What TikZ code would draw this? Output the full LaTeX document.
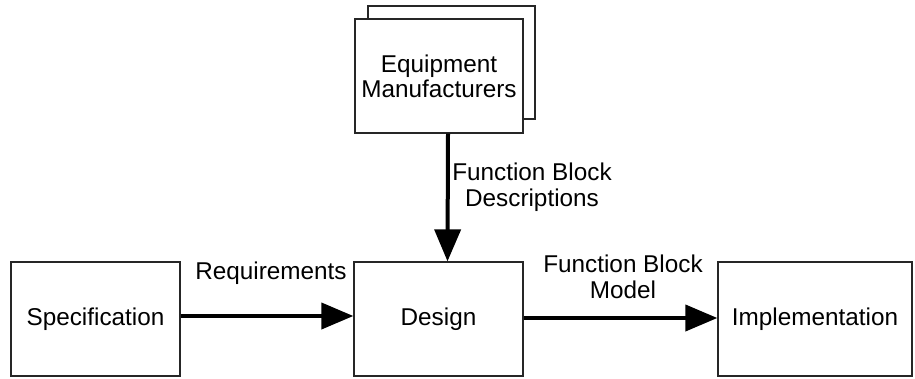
\documentclass[tikz,border=0pt]{standalone}
\usepackage{fontspec}
\setmainfont{Liberation Sans}
\usetikzlibrary{arrows.meta}
\begin{document}
\begin{tikzpicture}[x=1pt,y=-1pt,
  box/.style={draw=black!85, line width=1.3pt, fill=white, minimum height=114pt, inner sep=0pt, align=center, font=\fontsize{24.3}{25}\selectfont},
  flow/.style={line width=4pt, -{Triangle[length=32pt,width=26pt]}},
  lbl/.style={align=center, inner sep=0pt, font=\fontsize{24.3}{25.5}\selectfont}]
\useasboundingbox (0,0) rectangle (915,378);
\node[box, minimum width=167pt, minimum height=113pt] (eqback) at (451.5,62.5) {};
\node[box, minimum width=168pt] (eq) at (439,76) {Equipment\\Manufacturers};
\node[box, minimum width=169pt] (spec) at (95.5,319) {Specification};
\node[box, minimum width=169pt] (design) at (438.5,319) {Design};
\node[box, minimum width=194pt] (impl) at (815,319) {Implementation};
\draw[flow] ([xshift=9pt]eq.south) -- ([xshift=9pt]design.north);
\draw[flow] ([yshift=3pt]spec.east) -- ([yshift=3pt]design.west);
\draw[flow] ([yshift=1pt]design.east) -- ([yshift=1pt]impl.west);
\node[lbl] (fbd) at (532,187) {Function Block\\Descriptions};
\node[lbl] (req) at (271,273) {Requirements};
\node[lbl] (fbm) at (623,277) {Function Block\\Model};
\end{tikzpicture}
\end{document}
